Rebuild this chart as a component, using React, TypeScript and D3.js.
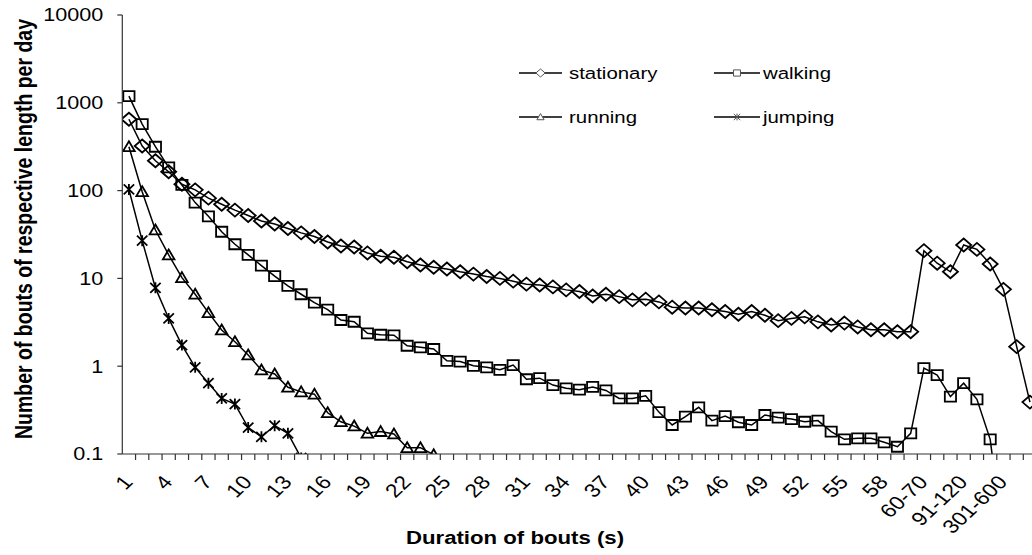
import { useEffect, useRef } from 'react';
import * as d3 from 'd3';

// Duration categories (s)
const categories = [
  '1', '2', '3', '4', '5', '6', '7', '8', '9', '10',
  '11', '12', '13', '14', '15', '16', '17', '18', '19', '20',
  '21', '22', '23', '24', '25', '26', '27', '28', '29', '30',
  '31', '32', '33', '34', '35', '36', '37', '38', '39', '40',
  '41', '42', '43', '44', '45', '46', '47', '48', '49', '50',
  '51', '52', '53', '54', '55', '56', '57', '58', '59', '60',
  '60-70', '71-80', '81-90', '91-120', '121-180', '181-300', '301-600', '601-1200', '1201-3600',
];

const stationary = [
  649, 322, 219, 164, 118, 102, 82, 70, 60, 52,
  45, 41.7, 37, 33, 30, 26, 23.4, 22.8, 19.5, 17.9,
  17.4, 15.5, 14.2, 13.4, 12.8, 11.9, 11.2, 10.5, 10.0, 9.3,
  8.6, 8.4, 8.0, 7.4, 7.1, 6.3, 6.6, 6.2, 5.7, 5.8,
  5.4, 4.7, 4.6, 4.6, 4.4, 4.2, 3.9, 4.2, 3.8, 3.3,
  3.5, 3.65, 3.2, 2.95, 3.1, 2.8, 2.6, 2.6, 2.47, 2.47,
  20.7, 14.9, 11.9, 24, 21.4, 14.6, 7.5, 1.67, 0.39,
];

const walking = [
  1190, 573, 316, 184, 116, 73, 51, 34, 24.5, 18.5,
  14, 10.6, 8.2, 6.6, 5.3, 4.4, 3.36, 3.21, 2.37, 2.28,
  2.25, 1.71, 1.64, 1.57, 1.15, 1.13, 1.01, 0.97, 0.91, 1.03,
  0.71, 0.73, 0.61, 0.56, 0.54, 0.58, 0.53, 0.43, 0.43, 0.46,
  0.30, 0.214, 0.266, 0.34, 0.24, 0.27, 0.23, 0.214, 0.278, 0.26,
  0.25, 0.233, 0.24, 0.18, 0.147, 0.151, 0.151, 0.136, 0.121, 0.172,
  0.95, 0.79, 0.45, 0.64, 0.42, 0.147, 0.01, null, null,
];

const running = [
  316, 97, 35.6, 18.5, 10.2, 6.6, 4.07, 2.58, 1.9, 1.34,
  0.906, 0.815, 0.575, 0.51, 0.48, 0.295, 0.233, 0.208, 0.172, 0.18,
  0.169, 0.118, 0.118, 0.098,
];

const jumping = [
  103, 26.9, 7.8, 3.5, 1.74, 0.97, 0.64, 0.43, 0.37, 0.2,
  0.157, 0.21, 0.172, 0.09,
];

const yTicks = [0.1, 1, 10, 100, 1000, 10000];
const yTickLabels = ['0.1', '1', '10', '100', '1000', '10000'];

const W = 1032;
const H = 555;
const FONT = "'Liberation Sans', Arial, sans-serif";
const SX = 1.2; // the reference is stretched horizontally

type Marker = 'diamond' | 'square' | 'triangle' | 'star';

function markerPath(kind: Marker, s: number) {
  // s = 1 for plot markers, smaller for legend
  const p = d3.path();
  if (kind === 'diamond') {
    const w = 7.5 * s, h = 6.5 * s;
    p.moveTo(0, -h); p.lineTo(w, 0); p.lineTo(0, h); p.lineTo(-w, 0); p.closePath();
  } else if (kind === 'square') {
    const w = 5.6 * s, h = 5 * s;
    p.rect(-w, -h, 2 * w, 2 * h);
  } else if (kind === 'triangle') {
    const w = 5.8 * s, h = 5.5 * s;
    p.moveTo(0, -h); p.lineTo(w, h * 0.8); p.lineTo(-w, h * 0.8); p.closePath();
  } else {
    const w = 5.2 * s, h = 5 * s;
    p.moveTo(-w, -h); p.lineTo(w, h);
    p.moveTo(w, -h); p.lineTo(-w, h);
    p.moveTo(0, -h * 1.1); p.lineTo(0, h * 1.1);
  }
  return p.toString();
}

const series: { name: string; values: (number | null)[]; marker: Marker }[] = [
  { name: 'stationary', values: stationary, marker: 'diamond' },
  { name: 'walking', values: walking, marker: 'square' },
  { name: 'running', values: running, marker: 'triangle' },
  { name: 'jumping', values: jumping, marker: 'star' },
];

function BoutsChart() {
  const svgRef = useRef<SVGSVGElement>(null);

  useEffect(() => {
    if (!svgRef.current) return;
    const svg = d3.select(svgRef.current);
    svg.selectAll('*').remove();

    const left = 122.3;
    const top = 15;
    const bottom = 454;
    const step = 13.25;

    const x = d3
      .scaleBand<string>()
      .domain(categories)
      .range([left, left + step * categories.length])
      .padding(0);
    const y = d3.scaleLog().domain([0.1, 10000]).range([bottom, top]);
    const cx = (c: string) => (x(c) as number) + x.bandwidth() / 2;

    svg
      .append('defs')
      .append('clipPath')
      .attr('id', 'plot-clip')
      .append('rect')
      .attr('x', left)
      .attr('y', 0)
      .attr('width', W - left)
      .attr('height', bottom);

    // Series lines + markers
    const plot = svg.append('g').attr('clip-path', 'url(#plot-clip)');
    series.forEach((s) => {
      const pts = s.values
        .map((v, i) => ({ c: categories[i], v }))
        .filter((d) => d.v != null) as { c: string; v: number }[];

      const ln = d3
        .line<{ c: string; v: number }>()
        .x((d) => cx(d.c))
        .y((d) => y(d.v));

      plot
        .append('path')
        .attr('d', ln(pts))
        .attr('fill', 'none')
        .attr('stroke', '#000')
        .attr('stroke-width', 1.5);

      plot
        .selectAll(null)
        .data(pts)
        .enter()
        .append('path')
        .attr('transform', (d) => `translate(${cx(d.c)},${y(d.v)})`)
        .attr('d', markerPath(s.marker, 1))
        .attr('fill', 'none')
        .attr('stroke', '#000')
        .attr('stroke-width', 1.8);
    });

    // Axes
    const axisColor = '#333';
    svg
      .append('line')
      .attr('x1', left)
      .attr('x2', left)
      .attr('y1', top)
      .attr('y2', bottom)
      .attr('stroke', axisColor)
      .attr('stroke-width', 1.2);
    svg
      .append('line')
      .attr('x1', left)
      .attr('x2', W)
      .attr('y1', bottom)
      .attr('y2', bottom)
      .attr('stroke', axisColor)
      .attr('stroke-width', 1.2);

    yTicks.forEach((t, i) => {
      svg
        .append('line')
        .attr('x1', left - 5)
        .attr('x2', left)
        .attr('y1', y(t))
        .attr('y2', y(t))
        .attr('stroke', axisColor)
        .attr('stroke-width', 1.2);
      svg
        .append('text')
        .attr('transform', `translate(${left - 19},${y(t)}) scale(${SX},1)`)
        .attr('text-anchor', 'end')
        .attr('dy', '0.36em')
        .attr('font-family', FONT)
        .attr('font-size', 18)
        .attr('fill', '#000')
        .text(yTickLabels[i]);
    });

    categories.forEach((c, i) => {
      svg
        .append('line')
        .attr('x1', (x(c) as number) + x.bandwidth())
        .attr('x2', (x(c) as number) + x.bandwidth())
        .attr('y1', bottom)
        .attr('y2', bottom + 6)
        .attr('stroke', axisColor)
        .attr('stroke-width', 1.2);
      if (i % 3 === 0) {
        svg
          .append('text')
          .attr('transform', `translate(${cx(c) + 5},${bottom + 29}) scale(${SX},1) rotate(-48)`)
          .attr('text-anchor', 'end')
          .attr('font-family', FONT)
          .attr('font-size', 19)
          .attr('fill', '#000')
          .text(c);
      }
    });

    // Titles
    svg
      .append('text')
      .attr('transform', `translate(515,544) scale(${SX},1)`)
      .attr('text-anchor', 'middle')
      .attr('font-family', FONT)
      .attr('font-weight', 'bold')
      .attr('font-size', 18.5)
      .text('Duration of bouts (s)');

    svg
      .append('text')
      .attr('transform', `translate(32,229) scale(${SX},1) rotate(-90)`)
      .attr('text-anchor', 'middle')
      .attr('font-family', FONT)
      .attr('font-weight', 'bold')
      .attr('font-size', 19.5)
      .text('Number of bouts of respective length per day');

    // Legend
    const legendPos = [
      { x1: 519, x2: 562, tx: 569, y: 73 },
      { x1: 714, x2: 760, tx: 763, y: 73 },
      { x1: 519, x2: 562, tx: 569, y: 117 },
      { x1: 714, x2: 760, tx: 763, y: 117 },
    ];
    series.forEach((s, i) => {
      const p = legendPos[i];
      const lg = svg.append('g');
      lg.append('line')
        .attr('x1', p.x1)
        .attr('x2', p.x2)
        .attr('y1', p.y)
        .attr('y2', p.y)
        .attr('stroke', '#000')
        .attr('stroke-width', 1.5);
      lg.append('path')
        .attr('transform', `translate(${(p.x1 + p.x2) / 2},${p.y})`)
        .attr('d', markerPath(s.marker, 0.62))
        .attr('fill', '#fff')
        .attr('stroke', '#555')
        .attr('stroke-width', 1);
      lg.append('text')
        .attr('transform', `translate(${p.tx},${p.y}) scale(${SX},1)`)
        .attr('dy', '0.33em')
        .attr('font-family', FONT)
        .attr('font-size', 17)
        .attr('fill', '#000')
        .text(s.name);
    });
  }, []);

  return (
    <svg
      ref={svgRef}
      width={W}
      height={H}
      style={{ position: 'absolute', left: 0, top: 0, background: '#fff' }}
    />
  );
}

export default function App() {
  return <BoutsChart />;
}
